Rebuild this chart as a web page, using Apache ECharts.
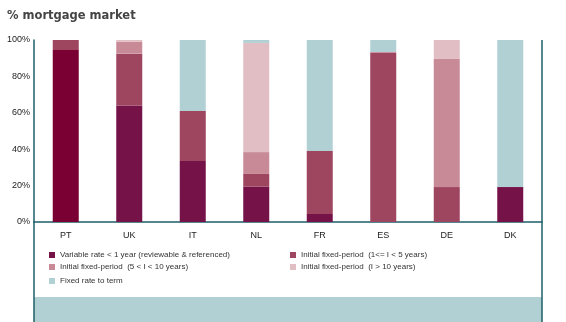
<!DOCTYPE html>
<html><head><meta charset="utf-8">
<script src="https://cdn.jsdelivr.net/npm/echarts@6/dist/echarts.min.js"></script>
<style>html,body{margin:0;padding:0;background:#fff}#c{width:566px;height:322px}</style>
</head><body><div id="c"></div>
<script>
const categories = ['PT','UK','IT','NL','FR','ES','DE','DK'];
const seriesNames = ['Variable rate < 1 year (reviewable & referenced)','Initial fixed-period  (1<= I < 5 years)','Initial fixed-period  (5 < I < 10 years)','Initial fixed-period  (I > 10 years)','Fixed rate to term'];
const variableRate = [94.5, 64, 33.5, 19.4, 4.4, 0, 0, 19.2];
const fixed1to5 = [5.5, 28.5, 27.5, 7, 34.6, 92.9, 19.2, 0];
const fixed5to10 = [0, 6.6, 0, 12, 0, 0.5, 70.4, 0];
const fixedOver10 = [0, 0.9, 0, 60, 0, 0, 10.4, 0];
const fixedToTerm = [0, 0, 39, 1.6, 61, 6.6, 0, 80.8];
const yTicks = [0,20,40,60,80,100];
const colors = ['#751248','#9e4560','#c88a96','#e0bec3','#b0d0d4'];
const lineColor = '#1f5f68';
const chart = echarts.init(document.getElementById('c'));
const all = [variableRate, fixed1to5, fixed5to10, fixedOver10, fixedToTerm];
const series = all.map((arr,i)=>({
  name: seriesNames[i], type:'bar', stack:'s', barWidth:26,
  itemStyle:{color:colors[i]},
  data: arr.map((v,j)=> (i===0 && j===0) ? {value:v,itemStyle:{color:'#7a0033'}} : v)
}));
const legendPos = [[44,246],[44,258],[44,272],[285,246],[285,258]];
const legendOrder = [0,2,4,1,3];
const legends = legendOrder.map((si,k)=>({
  data:[{name:seriesNames[si], icon:'rect'}], left:legendPos[k][0], top:legendPos[k][1],
  itemWidth:6, itemHeight:6, itemGap:4, selectedMode:false,
  textStyle:{fontSize:8, color:'#333', fontFamily:'Liberation Sans, Arial, sans-serif'}
}));
chart.setOption({
  animation:false,
  title:{text:'% mortgage market', left:7, top:10, padding:0, textStyle:{fontSize:11.5, fontWeight:'bold', color:'#444', fontFamily:'DejaVu Sans, sans-serif'}},
  legend: legends,
  grid:{left:34, right:24, top:40, height:182},
  xAxis:{type:'category', data:categories, axisTick:{show:false},
    axisLine:{lineStyle:{color:lineColor, width:1.5}},
    axisLabel:{fontSize:9, color:'#222', margin:9, fontFamily:'Liberation Sans, Arial, sans-serif'}},
  yAxis:{type:'value', min:0, max:100, interval:20, splitLine:{show:false},
    axisLine:{show:true, lineStyle:{color:lineColor, width:1.5}}, axisTick:{show:false},
    axisLabel:{fontSize:9, color:'#222', margin:4, formatter:v=> yTicks.includes(v)? v+'%':'', fontFamily:'Liberation Sans, Arial, sans-serif'}},
  graphic:[
    {type:'rect', shape:{x:34, y:297, width:508, height:25}, style:{fill:'#b0d0d4'}, silent:true},
    {type:'line', shape:{x1:34, y1:222, x2:34, y2:322}, style:{stroke:lineColor, lineWidth:1.5}},
    {type:'line', shape:{x1:542, y1:40, x2:542, y2:322}, style:{stroke:lineColor, lineWidth:1.5}}
  ],
  series: series
});
</script></body></html>
